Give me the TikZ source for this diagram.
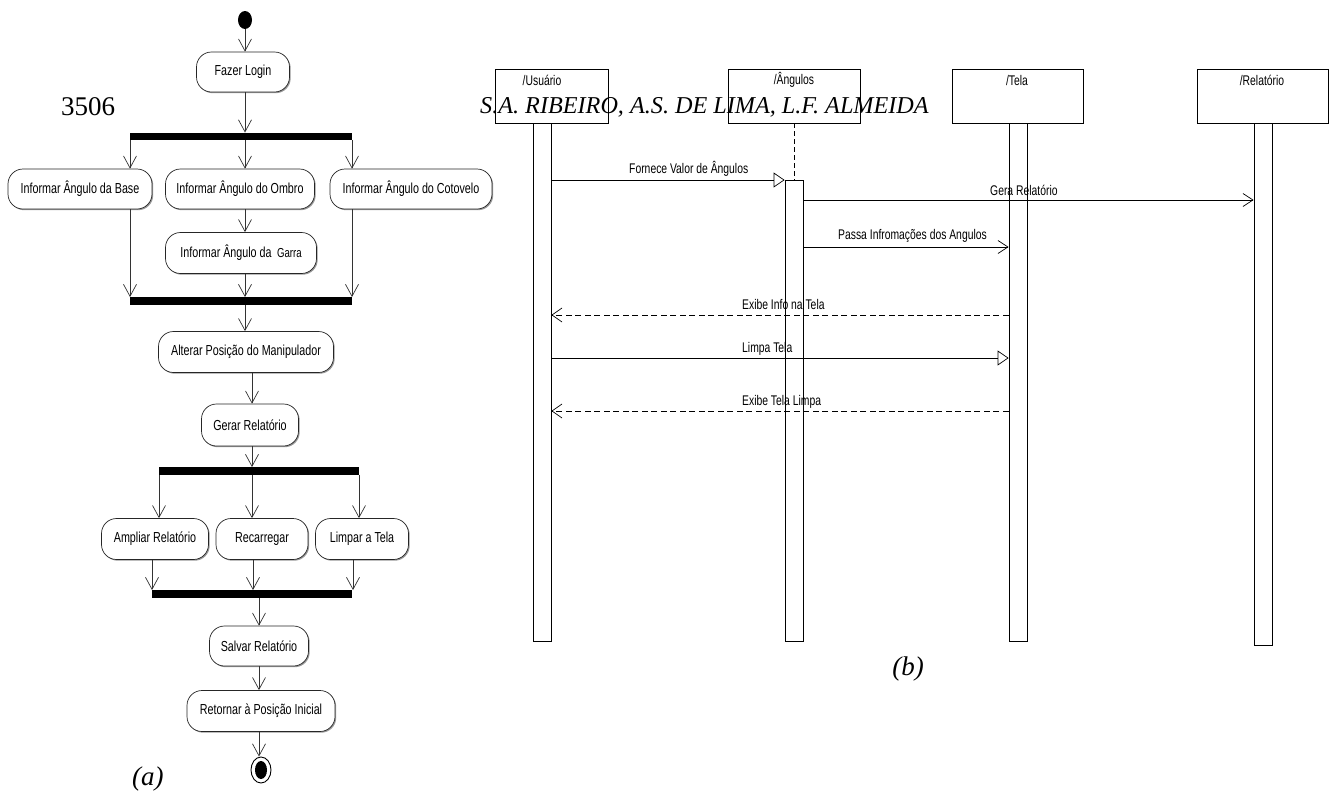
\documentclass[tikz,border=0pt]{standalone}
\usepackage{fontspec}
\setmainfont{Liberation Serif}
\newfontfamily\umlfont[FakeStretch=0.74]{Liberation Sans}
\usetikzlibrary{arrows.meta,shadows,shapes.geometric}
\begin{document}
\begin{tikzpicture}[x=1pt,y=-1pt,
  act/.style={draw=black!85, line width=0.7pt, rounded corners=15pt, fill=white, inner sep=0pt,
    font=\umlfont\fontsize{14.5}{16}\selectfont,
    drop shadow={shadow xshift=1.2pt, shadow yshift=-1.2pt, fill=black!40, opacity=1}},
  forkbar/.style={fill=black, draw=none, inner sep=0pt, minimum height=7.5pt},
  flow/.style={draw=black!80, line width=0.7pt, -{Straight Barb[length=12pt,width=13pt,line width=0.7pt]}},
  lbox/.style={draw, line width=0.8pt, inner sep=0pt, minimum height=54pt},
  lname/.style={font=\umlfont\fontsize{14}{16}\selectfont, inner sep=0pt},
  actbar/.style={draw, line width=0.8pt, fill=white, inner sep=0pt, minimum width=18pt},
  sync/.style={line width=0.7pt, -{Triangle[open, length=11pt, width=15pt, line width=0.7pt]}},
  call/.style={line width=0.7pt, -{Straight Barb[length=10pt, width=13pt, line width=0.7pt]}},
  reply/.style={line width=0.7pt, dash pattern=on 6pt off 3.5pt, -{Straight Barb[length=10pt, width=14pt, line width=0.7pt]}},
  mlabel/.style={font=\umlfont\fontsize{14}{16}\selectfont, inner sep=0pt, anchor=base west},
  serif/.style={font=\fontsize{27}{30}\selectfont, inner sep=0pt}
]
\useasboundingbox (0,0) rectangle (1333,793);

% ---------------- (a) activity diagram ----------------
\node[ellipse, fill=black, inner sep=0pt, minimum width=14pt, minimum height=18pt] (start) at (245,20) {};
\node[act, minimum width=93pt, minimum height=40pt] (login) at (243,72) {Fazer Login};
\node[forkbar, minimum width=222pt] (f1) at (241,136.5) {};
\node[act, minimum width=144pt, minimum height=40pt] (base) at (80,189) {Informar Ângulo da Base};
\node[act, minimum width=149pt, minimum height=40pt] (ombro) at (240,189) {Informar Ângulo do Ombro};
\node[act, minimum width=162pt, minimum height=40pt] (cotov) at (411,189) {Informar Ângulo do Cotovelo};
\node[act, minimum width=151pt, minimum height=41pt] (garra) at (241,253) {Informar Ângulo da \,{\fontsize{13}{15}\selectfont Garra}};
\node[forkbar, minimum width=222pt] (f2) at (241,301) {};
\node[act, minimum width=175pt, minimum height=41pt] (alterar) at (246,352) {Alterar Posição do Manipulador};
\node[act, minimum width=97pt, minimum height=42pt] (gerar) at (250,425) {Gerar Relatório};
\node[forkbar, minimum width=200pt] (f3) at (259,471) {};
\node[act, minimum width=107pt, minimum height=41pt] (ampliar) at (155,539) {Ampliar Relatório};
\node[act, minimum width=92pt, minimum height=41pt] (recarr) at (262,539) {Recarregar};
\node[act, minimum width=93pt, minimum height=41pt] (limpar) at (362,539) {Limpar a Tela};
\node[forkbar, minimum width=200pt] (f4) at (252,594) {};
\node[act, minimum width=99pt, minimum height=40pt] (salvar) at (259,646) {Salvar Relatório};
\node[act, minimum width=148pt, minimum height=41pt] (retornar) at (261,711) {Retornar à Posição Inicial};
\node[ellipse, draw, line width=0.9pt, fill=white, inner sep=0pt, minimum width=20pt, minimum height=26pt] (fim) at (261,770) {};
\fill (fim.center) ellipse [x radius=6pt, y radius=9pt];

\coordinate (xa) at (245,0);
\coordinate (xl) at (130,0);
\coordinate (xr) at (352,0);
\coordinate (xg) at (252,0);
\coordinate (x3l) at (159,0);
\coordinate (x3r) at (359,0);
\coordinate (x4l) at (152,0);
\coordinate (x4m) at (253,0);
\coordinate (x4r) at (353,0);
\coordinate (xs) at (259,0);

\draw[flow] (start.south) -- (start.south |- login.north);
\draw[flow] (login.south -| xa) -- (f1.north -| xa);
\draw[flow] (f1.south -| xl) -- (base.north -| xl);
\draw[flow] (f1.south -| xa) -- (ombro.north -| xa);
\draw[flow] (f1.south -| xr) -- (cotov.north -| xr);
\draw[flow] (ombro.south -| xa) -- (garra.north -| xa);
\draw[flow] (base.south -| xl) -- (f2.north -| xl);
\draw[flow] (garra.south -| xa) -- (f2.north -| xa);
\draw[flow] (cotov.south -| xr) -- (f2.north -| xr);
\draw[flow] (f2.south -| xa) -- (alterar.north -| xa);
\draw[flow] (alterar.south -| xg) -- (gerar.north -| xg);
\draw[flow] (gerar.south -| xg) -- (f3.north -| xg);
\draw[flow] (f3.south -| x3l) -- (ampliar.north -| x3l);
\draw[flow] (f3.south -| xg) -- (recarr.north -| xg);
\draw[flow] (f3.south -| x3r) -- (limpar.north -| x3r);
\draw[flow] (ampliar.south -| x4l) -- (f4.north -| x4l);
\draw[flow] (recarr.south -| x4m) -- (f4.north -| x4m);
\draw[flow] (limpar.south -| x4r) -- (f4.north -| x4r);
\draw[flow] (f4.south -| xs) -- (salvar.north -| xs);
\draw[flow] (salvar.south -| xs) -- (retornar.north -| xs);
\draw[flow] (retornar.south -| xs) -- (fim.north -| xs);

\node[serif, anchor=base west] (pagenum) at (61,115) {3506};
\node[serif, anchor=base west, font=\fontsize{27}{30}\selectfont\itshape] (capa) at (132,785) {(a)};

% ---------------- (b) sequence diagram ----------------
\node[lbox, minimum width=113pt] (usr) at (551.5,96) {};
\node[lbox, minimum width=132pt] (ang) at (794,96) {};
\node[lbox, minimum width=131pt] (tela) at (1017.5,96) {};
\node[lbox, minimum width=131pt] (rel) at (1262.5,96) {};
\node[lname] (usrn) at (542,80) {/Usuário};
\node[lname] (angn) at (794,80) {/Ângulos};
\node[lname] (telan) at (1017,80) {/Tela};
\node[lname] (reln) at (1262,80) {/Relatório};

\node[actbar, minimum height=518pt] (ubar) at (542,382) {};
\node[actbar, minimum height=461pt] (abar) at (794,410.5) {};
\node[actbar, minimum height=518pt] (tbar) at (1018,382) {};
\node[actbar, minimum height=522pt] (rbar) at (1263,384) {};
\draw[line width=0.7pt, dash pattern=on 5pt off 3pt] (ang.south) -- (abar.north);

\coordinate (y1) at (0,180);
\coordinate (y2) at (0,200);
\coordinate (y3) at (0,247);
\coordinate (y4) at (0,315);
\coordinate (y5) at (0,358);
\coordinate (y6) at (0,411);

\draw[sync] (ubar.east |- y1) -- (abar.west |- y1);
\draw[call] (abar.east |- y2) -- (rbar.west |- y2);
\draw[call] (abar.east |- y3) -- (tbar.west |- y3);
\draw[reply] (tbar.west |- y4) -- (ubar.east |- y4);
\draw[sync] (ubar.east |- y5) -- (tbar.west |- y5);
\draw[reply] (tbar.west |- y6) -- (ubar.east |- y6);

\node[mlabel] (l1) at (629,173) {Fornece Valor de Ângulos};
\node[mlabel] (l2) at (990,195) {Gera Relatório};
\node[mlabel] (l3) at (838,239) {Passa Infromações dos Angulos};
\node[mlabel] (l4) at (742,309) {Exibe Info na Tela};
\node[mlabel] (l5) at (742,352) {Limpa Tela};
\node[mlabel] (l6) at (742,405) {Exibe Tela Limpa};

\node[serif, anchor=base west, font=\fontsize{24.2}{28}\selectfont\itshape] (header) at (480,113) {S.A. RIBEIRO, A.S. DE LIMA, L.F. ALMEIDA};
\node[serif, anchor=base, font=\fontsize{27}{30}\selectfont\itshape] (capb) at (908,675) {(b)};
\end{tikzpicture}
\end{document}
